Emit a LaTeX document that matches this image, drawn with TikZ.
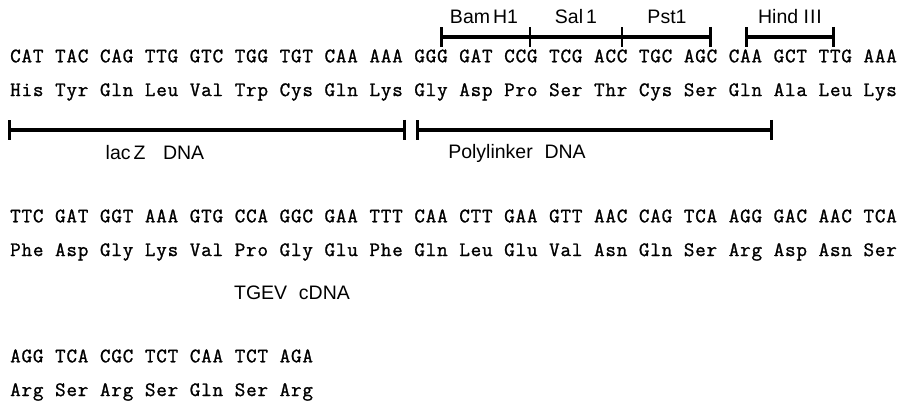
\documentclass[tikz,border=0pt]{standalone}
\usepackage{fontspec}
\setmainfont{Liberation Sans}
\newfontfamily\seqfont[LetterSpace=4.0,FakeBold=1.2]{Latin Modern Mono}
\usetikzlibrary{arrows.meta}
\begin{document}
\begin{tikzpicture}[x=1pt,y=-1pt,
  seq/.style={anchor=west,inner sep=0pt,font=\seqfont\fontsize{20.5}{22}\selectfont,
    execute at begin node={\spaceskip=11.6pt plus 0pt minus 0pt\relax}},
  lbl/.style={inner sep=0pt,font=\fontsize{19.5}{22}\selectfont},
  sitebar/.style={line width=3.2pt,{Bar[width=20pt,line width=2.6pt]}-{Bar[width=20pt,line width=2.6pt]}},
  sitetick/.style={line width=2.6pt}]
\useasboundingbox (0,0) rectangle (905,411);
% sequence rows
\node[seq] (r1) at (10,56) {CAT TAC CAG TTG GTC TGG TGT CAA AAA GGG GAT CCG TCG ACC TGC AGC CAA GCT TTG AAA};
\node[seq] (r2) at (10,92) {His Tyr Gln Leu Val Trp Cys Gln Lys Gly Asp Pro Ser Thr Cys Ser Gln Ala Leu Lys};
\node[seq] (r3) at (10,216) {TTC GAT GGT AAA GTG CCA GGC GAA TTT CAA CTT GAA GTT AAC CAG TCA AGG GAC AAC TCA};
\node[seq] (r4) at (10,252) {Phe Asp Gly Lys Val Pro Gly Glu Phe Gln Leu Glu Val Asn Gln Ser Arg Asp Asn Ser};
\node[seq] (r5) at (10,356) {AGG TCA CGC TCT CAA TCT AGA};
\node[seq] (r6) at (10,392) {Arg Ser Arg Ser Gln Ser Arg};
% restriction site bars
\coordinate (b0) at (440,37);
\coordinate (b1) at (530,37);
\coordinate (b2) at (622,37);
\coordinate (b3) at (712,37);
\coordinate (h0) at (745,37);
\coordinate (h1) at (835,37);
\draw[sitebar] (b0) -- (b3);
\draw[sitetick] ([yshift=-10pt]b1) -- ([yshift=10pt]b1);
\draw[sitetick] ([yshift=-10pt]b2) -- ([yshift=10pt]b2);
\draw[sitebar] (h0) -- (h1);
\node[lbl] (bam) at (484,17) {Bam\kern3pt H1};
\node[lbl] (sal) at (576,17) {Sal\kern3pt 1};
\node[lbl] (pst) at (667,17) {Pst1};
\node[lbl] (hind) at (790,17) {Hind I\kern1pt I\kern1pt I};
% region bars
\coordinate (l0) at (8,130);
\coordinate (l1) at (406,130);
\coordinate (p0) at (416,130);
\coordinate (p1) at (773,130);
\draw[sitebar] (l0) -- (l1);
\draw[sitebar] (p0) -- (p1);
\node[lbl] (lacz) at (155,153) {lac\kern3pt Z\hspace{0.9em}DNA};
\node[lbl] (poly) at (517,153) {Polylinker\hspace{0.6em}DNA};
\node[lbl] (tgev) at (292,293) {TGEV\hspace{0.6em}cDNA};
\end{tikzpicture}
\end{document}
